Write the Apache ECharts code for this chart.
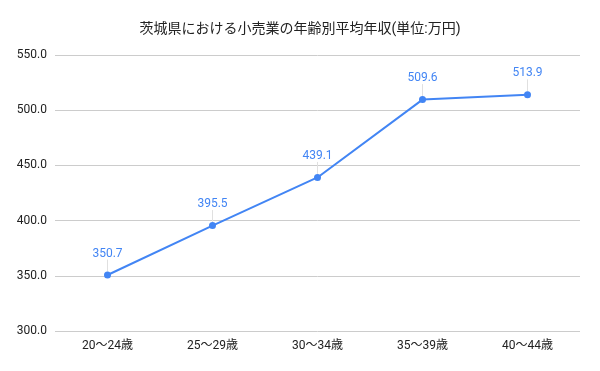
<!DOCTYPE html>
<html><head><meta charset="utf-8">
<script src="https://cdn.jsdelivr.net/npm/echarts@6/dist/echarts.min.js"></script>
<style>html,body{margin:0;padding:0;background:#fff}#c{width:600px;height:371px}</style>
</head><body><div id="c"></div>
<script>
const title = '茨城県における小売業の年齢別平均年収(単位:万円)';
const categories = ['20〜24歳', '25〜29歳', '30〜34歳', '35〜39歳', '40〜44歳'];
const values = [350.7, 395.5, 439.1, 509.6, 513.9];
const yMin = 300, yMax = 550, yStep = 50;

const chart = echarts.init(document.getElementById('c'), null, {renderer: 'canvas'});
chart.setOption({
  backgroundColor: '#ffffff',
  animation: false,
  title: {
    text: title, left: 'center', top: 18,
    textStyle: {fontFamily: 'Roboto, "Noto Sans CJK JP", sans-serif', fontSize: 14, fontWeight: 'normal', color: '#222'}
  },
  grid: {left: 55, right: 20, top: 55, bottom: 40},
  xAxis: {
    type: 'category', data: categories, boundaryGap: true,
    axisLine: {show: false}, axisTick: {show: false},
    axisLabel: {color: '#222', fontSize: 12, margin: 9, fontFamily: 'Roboto, "Noto Sans CJK JP", sans-serif'}
  },
  yAxis: {
    type: 'value', min: yMin, max: yMax, interval: yStep,
    axisLine: {show: false}, axisTick: {show: false},
    splitLine: {lineStyle: {color: '#cccccc', width: 1}},
    axisLabel: {color: '#222', fontSize: 12, margin: 8, formatter: v => v.toFixed(1), fontFamily: 'Roboto, sans-serif'}
  },
  series: [{
    type: 'line', data: values,
    symbol: 'circle', symbolSize: 7,
    itemStyle: {color: '#4285F4'},
    lineStyle: {color: '#4285F4', width: 2},
    label: {show: true, position: 'top', distance: 4, color: '#4285F4', fontSize: 12, fontFamily: 'Roboto, sans-serif', formatter: p => p.value.toFixed(1)},
    labelLayout: {dy: -8},
    labelLine: {show: true, lineStyle: {color: '#e0e0e0', width: 1}}
  }]
});
</script></body></html>
